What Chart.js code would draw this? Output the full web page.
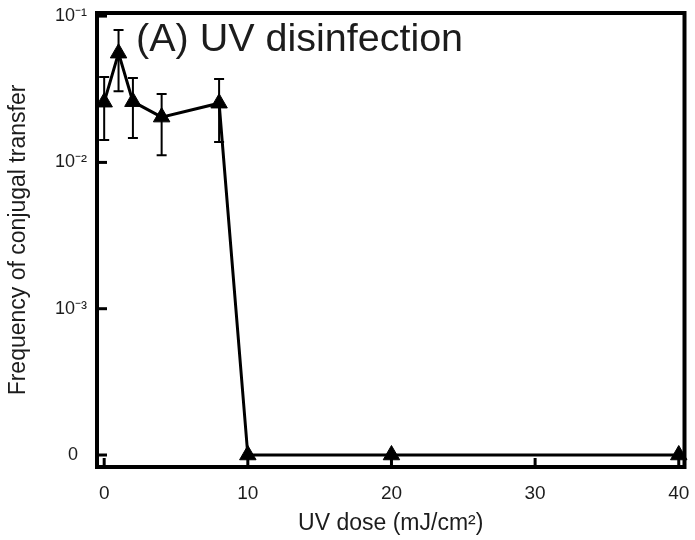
<!DOCTYPE html>
<html>
<head>
<meta charset="utf-8">
<script src="https://cdn.jsdelivr.net/npm/chart.js@4"></script>
<style>
  html, body { margin: 0; padding: 0; background: #fff; }
  #wrap { width: 695px; height: 540px; }
</style>
</head>
<body>
<div id="wrap"><canvas id="uvChart" width="695" height="540"></canvas></div>
<script>
// UV dose (mJ/cm2) and measured frequencies; "0" is plotted on the 1e-4 line
const doses = [0, 1, 2, 4, 8, 10, 20, 40];
const frequency = [0.0258, 0.0558, 0.026, 0.0204, 0.0254, 1e-4, 1e-4, 1e-4];
const errUpper = [0.0383, 0.0802, 0.0377, 0.0293, 0.0371, null, null, null];
const errLower = [0.0142, 0.0307, 0.0147, 0.0112, 0.0138, null, null, null];

const xTickValues = [0, 10, 20, 30, 40];
const yTickValues = [1e-4, 1e-3, 1e-2, 1e-1];
const yTickLabels = ['0\u2002', '10\u207B\u00B3', '10\u207B\u00B2', '10\u207B\u00B9'];

const FONT = '"Liberation Sans", Arial, sans-serif';
const INK = '#1c1c1c';

// Barras de erro, marcas internas, moldura e título dentro do gráfico
const framePlugin = {
    id: 'framePlugin',
    beforeDatasetsDraw(chart) {
        const ctx = chart.ctx;
        const x = chart.scales.x;
        const y = chart.scales.y;
        ctx.save();
        ctx.strokeStyle = '#000';
        ctx.lineWidth = 2;
        doses.forEach((d, i) => {
            if (errUpper[i] == null) return;
            const px = x.getPixelForValue(d);
            const top = y.getPixelForValue(errUpper[i]);
            const bot = y.getPixelForValue(errLower[i]);
            ctx.beginPath();
            ctx.moveTo(px, top);
            ctx.lineTo(px, bot);
            ctx.moveTo(px - 5, top);
            ctx.lineTo(px + 5, top);
            ctx.moveTo(px - 5, bot);
            ctx.lineTo(px + 5, bot);
            ctx.stroke();
        });
        ctx.restore();
    },
    afterDraw(chart) {
        const ctx = chart.ctx;
        const area = chart.chartArea;
        const x = chart.scales.x;
        const y = chart.scales.y;
        ctx.save();
        ctx.strokeStyle = '#000';
        ctx.lineWidth = 3;
        xTickValues.forEach(v => {
            const px = x.getPixelForValue(v);
            ctx.beginPath();
            ctx.moveTo(px, area.bottom);
            ctx.lineTo(px, area.bottom - 9);
            ctx.stroke();
        });
        yTickValues.forEach(v => {
            const py = y.getPixelForValue(v);
            ctx.beginPath();
            ctx.moveTo(area.left, py);
            ctx.lineTo(area.left + 10, py);
            ctx.stroke();
        });
        ctx.lineWidth = 4;
        ctx.strokeRect(area.left, area.top, area.right - area.left, area.bottom - area.top);

        ctx.fillStyle = INK;
        ctx.font = '39.5px ' + FONT;
        ctx.textBaseline = 'alphabetic';
        ctx.fillText('(A) UV disinfection', 136, 51);
        ctx.restore();
    }
};

new Chart(document.getElementById('uvChart'), {
    type: 'line',
    data: {
        datasets: [{
            data: doses.map((d, i) => ({ x: d, y: frequency[i] })),
            borderColor: '#000',
            backgroundColor: '#000',
            borderWidth: 3,
            pointStyle: 'triangle',
            pointRadius: 9.5,
            pointBorderWidth: 1,
            tension: 0,
            clip: 6
        }]
    },
    options: {
        responsive: false,
        animation: false,
        layout: {
            padding: { top: 13, right: 7, left: 0, bottom: 0 }
        },
        scales: {
            x: {
                type: 'linear',
                min: -0.5,
                max: 40.4,
                afterBuildTicks: scale => {
                    scale.ticks = xTickValues.map(v => ({ value: v }));
                },
                afterFit: scale => {
                    scale.height = 73;
                    scale.paddingLeft = 0;
                    scale.paddingRight = 0;
                },
                grid: { display: false, drawTicks: false },
                border: { display: false },
                ticks: {
                    padding: 15,
                    color: INK,
                    font: { family: FONT, size: 19 },
                    maxRotation: 0
                },
                title: {
                    display: true,
                    text: 'UV dose (mJ/cm\u00B2)',
                    color: INK,
                    font: { family: FONT, size: 23 },
                    padding: { top: 0, bottom: 3 }
                }
            },
            y: {
                type: 'logarithmic',
                min: 8.28e-5,
                max: 0.105,
                afterBuildTicks: scale => {
                    scale.ticks = yTickValues.map(v => ({ value: v }));
                },
                afterFit: scale => {
                    scale.width = 97;
                    scale.paddingTop = 0;
                    scale.paddingBottom = 0;
                },
                grid: { display: false, drawTicks: false },
                border: { display: false },
                ticks: {
                    padding: 10,
                    color: INK,
                    font: { family: FONT, size: 18 },
                    callback: function (value) {
                        const idx = yTickValues.indexOf(value);
                        return idx >= 0 ? yTickLabels[idx] : '';
                    }
                },
                title: {
                    display: true,
                    text: 'Frequency of conjugal transfer',
                    color: INK,
                    font: { family: FONT, size: 23 },
                    padding: { top: 5, bottom: 0 }
                }
            }
        },
        plugins: {
            legend: { display: false },
            tooltip: { enabled: false }
        }
    },
    plugins: [framePlugin]
});
</script>
</body>
</html>
